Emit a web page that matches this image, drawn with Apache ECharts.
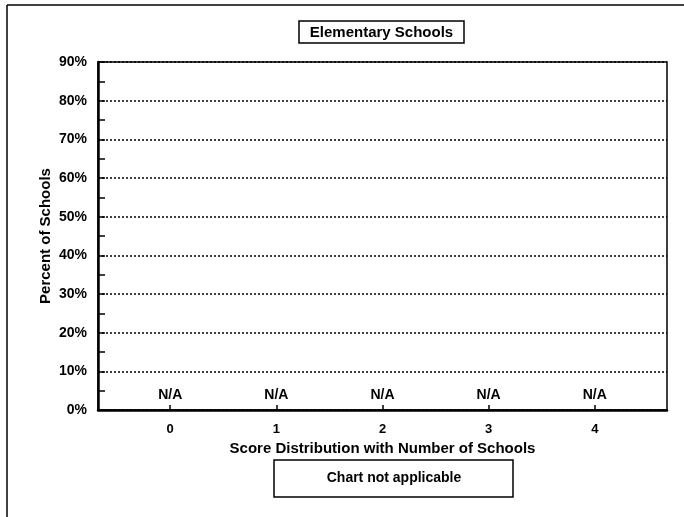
<!DOCTYPE html>
<html lang="en">
<head>
    <meta charset="UTF-8">
    <title>Elementary Schools</title>
    <script src="https://cdn.jsdelivr.net/npm/echarts@6/dist/echarts.min.js"></script>
    <style>
        html, body { margin: 0; padding: 0; background: #fff; }
        #chart-container { width: 684px; height: 517px; }
    </style>
</head>
<body>
    <div id="chart-container"></div>
    <script>
    // chart data
    var scores = [0, 1, 2, 3, 4];
    var percents = [0, 0, 0, 0, 0];
    var pointLabels = ['N/A', 'N/A', 'N/A', 'N/A', 'N/A'];
    var yTicks = [0, 10, 20, 30, 40, 50, 60, 70, 80, 90];

    var font = 'Arial, "Liberation Sans", sans-serif';
    var chart = echarts.init(document.getElementById('chart-container'));

    var option = {
        animation: false,
        backgroundColor: '#fff',
        grid: {
            left: 98, right: 17, top: 62, bottom: 107,
            show: true,
            borderColor: '#000',
            borderWidth: 1.5
        },
        xAxis: {
            type: 'value',
            min: -0.68,
            max: 4.68,
            name: 'Score Distribution with Number of Schools',
            nameLocation: 'middle',
            nameGap: 31,
            nameMoveOverlap: false,
            nameTextStyle: { fontFamily: font, fontWeight: 700, fontSize: 15, color: '#000' },
            axisLine: { show: true, onZero: false, lineStyle: { color: '#000', width: 2.5 } },
            axisTick: { show: true, inside: true, length: 5, customValues: scores, lineStyle: { color: '#000', width: 1.5 } },
            axisLabel: { customValues: scores, margin: 13, fontFamily: font, fontWeight: 700, fontSize: 13, color: '#000' },
            splitLine: { show: false }
        },
        yAxis: {
            type: 'value',
            min: 0,
            max: 90,
            interval: 10,
            name: 'Percent of Schools',
            nameLocation: 'middle',
            nameGap: 45,
            nameMoveOverlap: false,
            nameTextStyle: { fontFamily: font, fontWeight: 700, fontSize: 15, color: '#000' },
            axisLine: { show: true, onZero: false, lineStyle: { color: '#000', width: 2.5 } },
            axisTick: { show: true, inside: true, length: 7, lineStyle: { color: '#000', width: 1.5 } },
            minorTick: { show: true, splitNumber: 2, length: 7, lineStyle: { color: '#000', width: 1.5 } },
            axisLabel: {
                margin: 11,
                fontFamily: font, fontWeight: 700, fontSize: 14, color: '#000',
                customValues: yTicks,
                formatter: function (v) { return v + '%'; }
            },
            splitLine: { show: true, lineStyle: { color: '#000', type: [2, 2], width: 1.5 } }
        },
        series: [{
            type: 'scatter',
            symbolSize: 0.1,
            itemStyle: { color: '#000', opacity: 1 },
            data: scores.map(function (s, i) { return [s, percents[i]]; }),
            label: {
                show: true,
                position: 'top',
                distance: 8,
                fontFamily: font, fontWeight: 700, fontSize: 14, color: '#000',
                formatter: function (p) { return pointLabels[p.dataIndex]; }
            },
            emphasis: { disabled: true }
        }],
        graphic: [
            { type: 'line', shape: { x1: 7, y1: 5, x2: 684, y2: 5 }, style: { stroke: '#000', lineWidth: 1.5 } },
            { type: 'line', shape: { x1: 7, y1: 5, x2: 7, y2: 517 }, style: { stroke: '#000', lineWidth: 1.5 } },
            { type: 'rect', shape: { x: 299, y: 21, width: 165, height: 22 }, style: { fill: '#fff', stroke: '#000', lineWidth: 1.5 } },
            { type: 'text', x: 381.5, y: 32.5, style: { text: 'Elementary Schools', fontFamily: font, fontWeight: 700, fontSize: 15, fill: '#000', align: 'center', verticalAlign: 'middle' } },
            { type: 'rect', shape: { x: 274, y: 460, width: 239, height: 37 }, style: { fill: '#fff', stroke: '#000', lineWidth: 1.5 } },
            { type: 'text', x: 394, y: 478.5, style: { text: 'Chart not applicable', fontFamily: font, fontWeight: 700, fontSize: 14, fill: '#000', align: 'center', verticalAlign: 'middle' } }
        ]
    };

    chart.setOption(option);
    </script>
</body>
</html>
